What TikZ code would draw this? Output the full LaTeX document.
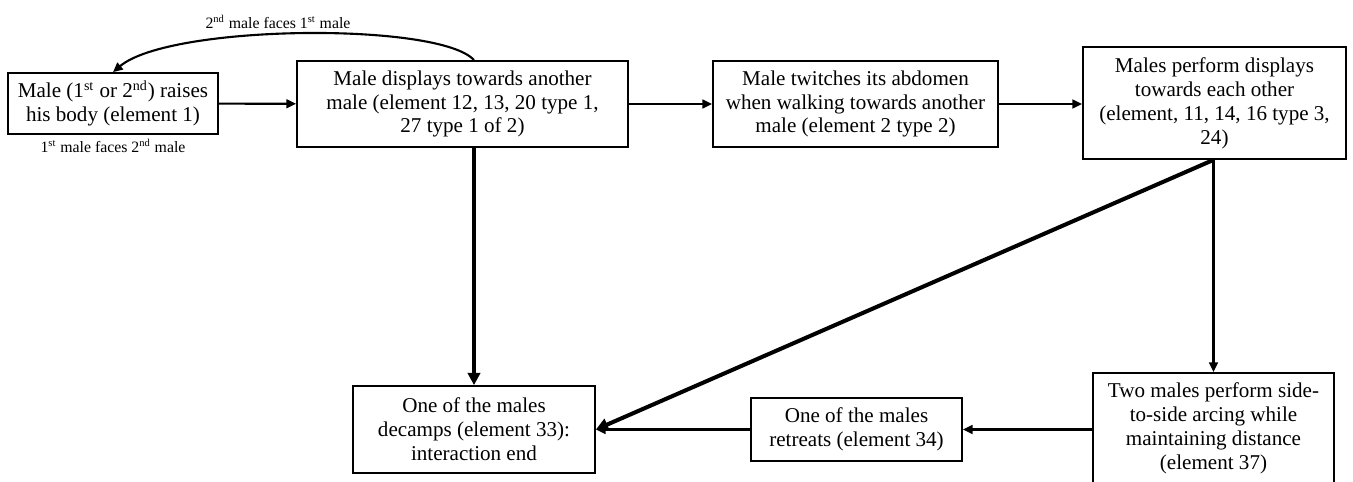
\documentclass[tikz,border=0pt]{standalone}
\usepackage{fontspec}
\setmainfont{Liberation Serif}
\usetikzlibrary{arrows.meta}
\begin{document}
\begin{tikzpicture}[x=0.02cm,y=-0.02cm]
\tikzstyle{box} = [draw, line width=1pt, align=center, inner sep=1pt, font=\fontsize{12}{13.6}\selectfont]
\tikzstyle{thin} = [-{Triangle[length=5.5pt,width=5pt]}, line width=1.2pt]
\tikzstyle{thick} = [-{Triangle[length=7pt,width=7pt]}, line width=2.3pt]
\tikzstyle{note} = [inner sep=0, font=\fontsize{9}{10}\selectfont]

\useasboundingbox (0,0) rectangle (1353,481);

\node [box, minimum width=4.2cm, minimum height=1.22cm] (raise) at (113,103.5)
	{Male (1\textsuperscript{st} or 2\textsuperscript{nd}) raises\\his body (element 1)};
\node [box, minimum width=6.62cm, minimum height=1.72cm] (display) at (462.5,104)
	{Male displays towards another\\male (element 12, 13, 20 type 1,\\27 type 1 of 2)};
\node [box, minimum width=5.7cm, minimum height=1.72cm] (twitch) at (855.5,104)
	{Male twitches its abdomen\\when walking towards another\\male (element 2 type 2)};
\node [box, minimum width=5.26cm, minimum height=2.24cm] (mutual) at (1214.5,103)
	{Males perform displays\\towards each other\\(element, 11, 14, 16 type 3,\\24)};
\node [box, minimum width=4.84cm, minimum height=1.74cm] (decamp) at (474,429.5)
	{One of the males\\decamps (element 33):\\interaction end};
\node [box, minimum width=4.22cm, minimum height=1.26cm] (retreat) at (856.5,429.5)
	{One of the males\\retreats (element 34)};
\node [box, minimum width=4.82cm, minimum height=2.22cm] (arcing) at (1213.5,428.5)
	{Two males perform side-\\to-side arcing while\\maintaining distance\\(element 37)};

\node [note] (faceA) at (278,22) {2\textsuperscript{nd} male faces 1\textsuperscript{st} male};
\node [note] (faceB) at (113,146) {1\textsuperscript{st} male faces 2\textsuperscript{nd} male};

\coordinate (top) at (display.north -| decamp.north);
\coordinate (low) at (display.south -| decamp.north);
\coordinate (split) at (mutual.south -| arcing.north);

\draw [thin] (raise) -- (display);
\draw [thin] (display) -- (twitch);
\draw [thin] (twitch.east) -- (twitch.east -| mutual.west);
\draw [thin] (top) .. controls (440,22) and (170,24) .. (raise.north);
\draw [thick] (low) -- (decamp.north);
\draw [thick] (split) -- (decamp.east);
\draw [thin] (split) -- (arcing.north);
\draw [thin] (arcing.west |- retreat.east) -- (retreat.east);
\draw [thin] (retreat.west) -- (retreat.west -| decamp.east);
\end{tikzpicture}
\end{document}
